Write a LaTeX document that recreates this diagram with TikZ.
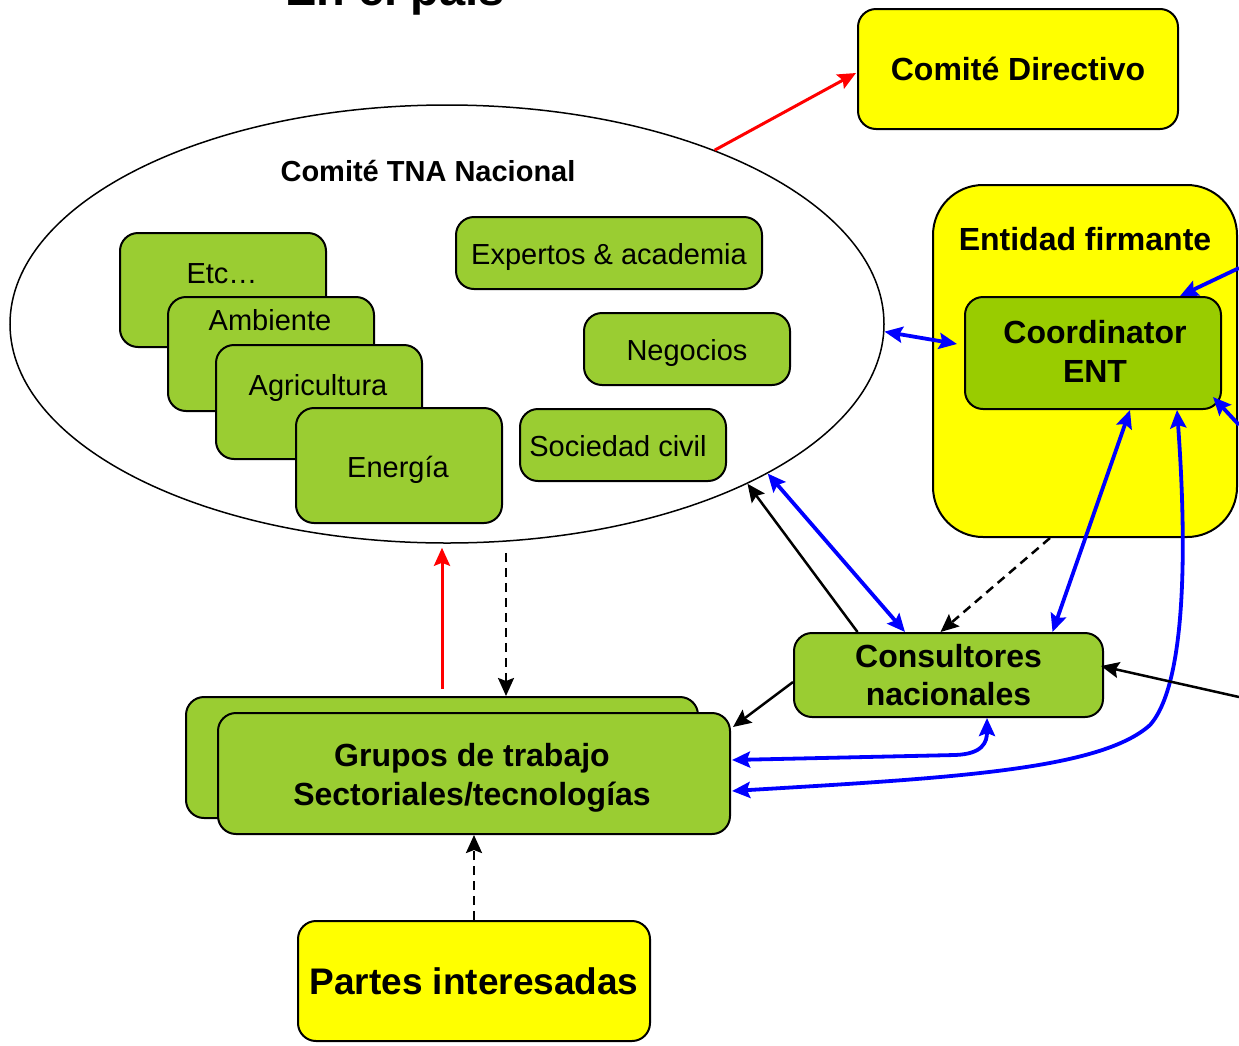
\documentclass[tikz,border=0pt]{standalone}
\usepackage{fontspec}
\setmainfont{Liberation Sans}
\usetikzlibrary{shapes.geometric,arrows.meta,calc}
\definecolor{gfill}{RGB}{154,205,50}
\definecolor{cfill}{RGB}{153,204,0}
\definecolor{yfill}{RGB}{255,255,0}
\definecolor{bl}{RGB}{0,0,255}
\definecolor{rd}{RGB}{255,0,0}
\begin{document}
\begin{tikzpicture}[x=1pt,y=-1pt,
  box/.style={draw, line width=2pt, rounded corners=18pt, inner sep=0pt},
  gbox/.style={box, fill=gfill},
  ybox/.style={box, fill=yfill},
  reg/.style={font=\fontsize{29}{33}\selectfont},
  bld/.style={font=\bfseries\fontsize{32}{38.5}\selectfont, align=center},
  tip/.style={-{Stealth[length=18pt,width=16pt,inset=3pt]}},
  dtip/.style={{Stealth[length=18pt,width=16pt,inset=3pt]}-{Stealth[length=18pt,width=16pt,inset=3pt]}},
  bcon/.style={line width=3.8pt, bl},
  kcon/.style={line width=2.5pt, black},
  rcon/.style={line width=3pt, rd},
  dcon/.style={line width=2.5pt, black, dash pattern=on 9pt off 6pt},
]
\fill[white] (0,0) rectangle (1239,1045);
\useasboundingbox (0,0) rectangle (1239,1045);

% title (cut off at the top, as in the reference)
\node[anchor=base, font=\bfseries\fontsize{47}{50}\selectfont, inner sep=0pt] (title) at (395,5) {En el país};

% Comite Directivo
\node[ybox, minimum width=320pt, minimum height=120pt, font=\bfseries\fontsize{32}{38}\selectfont] (cd) at (1018,69) {Comité Directivo};

% Ellipse
\node[draw, ellipse, line width=1.5pt, minimum width=874pt, minimum height=438pt, inner sep=0pt] (tna) at (447,324) {};
\node[font=\bfseries\fontsize{29}{33}\selectfont] (tnat) at (428,171) {Comité TNA Nacional};

% stacked sector boxes
\node[gbox, minimum width=206pt, minimum height=114pt] (etc) at (223,290) {};
\node[reg] (etct) at (222,274) {Etc…};
\node[gbox, minimum width=206pt, minimum height=114pt] (amb) at (271,354) {};
\node[reg] (ambt) at (270,320) {Ambiente};
\node[gbox, minimum width=206pt, minimum height=114pt] (agr) at (319,402) {};
\node[reg] (agrt) at (318,388) {Agricultura};
\node[gbox, minimum width=206pt, minimum height=115pt] (ene) at (399,465.5) {};
\node[reg] (enet) at (398,470) {Energía};

\node[gbox, minimum width=306pt, minimum height=72pt] (exp) at (609,253) {};
\node[reg] (expt) at (609,257) {Expertos \& academia};
\node[gbox, minimum width=206pt, minimum height=72pt] (neg) at (687,349) {};
\node[reg] (negt) at (687,353) {Negocios};
\node[gbox, minimum width=206pt, minimum height=72pt] (soc) at (623,445) {};
\node[reg] (soct) at (618,446) {Sociedad civil};

% Entidad firmante
\node[ybox, rounded corners=50pt, minimum width=304pt, minimum height=352pt] (ef) at (1085,361) {};
\node[font=\bfseries\fontsize{32}{38}\selectfont] (eft) at (1085,239) {Entidad firmante};
\node[box, fill=cfill, minimum width=256pt, minimum height=112pt] (coord) at (1093,353) {};
\node[bld] (coordt) at (1095,351.5) {Coordinator\\ENT};

% Consultores
\node[gbox, bld, minimum width=309pt, minimum height=84pt] (cons) at (948.5,675) {Consultores\\nacionales};

% Grupos
\node[gbox, minimum width=512pt, minimum height=121pt] (gb) at (442,757.5) {};
\node[gbox, minimum width=512pt, minimum height=121pt] (gf) at (474,773.5) {};
\node[bld] (gft) at (472,778) {Grupos de trabajo\\Sectoriales/tecnologías};

% Partes interesadas
\node[ybox, minimum width=352pt, minimum height=120pt, font=\bfseries\fontsize{37}{42}\selectfont] (pi) at (474,981) {Partes interesadas};

% free ends at the right edge
\coordinate (rA) at (1239,268);
\coordinate (rB) at (1239,425);
\coordinate (rC) at (1239,697);

% connectors
\draw[rcon,tip] (tna.33.5) -- ($(cd.west)+(-1,4)$);
\draw[bcon,dtip] (tna.-1) -- ($(coord.west)+(-7,-9)$);
\draw[bcon,tip] (rA) -- ([xshift=87pt]coord.north);
\draw[bcon,tip] (rB) -- ($(coord.south east)+(-9,-13)$);
\draw[bcon,dtip] ($(coord.south)+(37,0)$) -- ($(cons.north)+(104,0)$);
\draw[bcon,dtip] ($(gf.east)+(1,17.5)$) .. controls (950,778) and (1100,770) .. (1150,725) .. controls (1190,680) and (1185,520) .. ($(coord.south)+(84,0)$);
\draw[bcon,dtip] ($(gf.east)+(1,-13.5)$) -- (955,755) .. controls (983,754) and (987,742) .. ($(cons.south)+(38.5,0)$);
\draw[kcon,tip] (rC) -- ($(cons.east)+(-3,-9)$);
\draw[kcon,tip] ($(cons.west)+(0,7)$) -- ($(gf.north east)+(2,15)$);
\draw[kcon,tip] ($(cons.north)+(-91,0)$) -- (tna.-28.5);
\draw[bcon,dtip] (tna.-25.4) -- ($(cons.north)+(-43.5,0)$);
\draw[dcon,tip] ($(ef.south)+(-35,0)$) -- ($(cons.north)+(-8,0)$);
\draw[rcon,tip,shorten <=7pt,shorten >=4pt] (gb.north) -- (tna.south -| gb.north);
\draw[dcon,tip,shorten <=9pt] ($(tna.south)+(59,0)$) -- ($(gb.north)+(64,0)$);
\draw[dcon,tip] (pi.north) -- (gf.south);
\end{tikzpicture}
\end{document}
